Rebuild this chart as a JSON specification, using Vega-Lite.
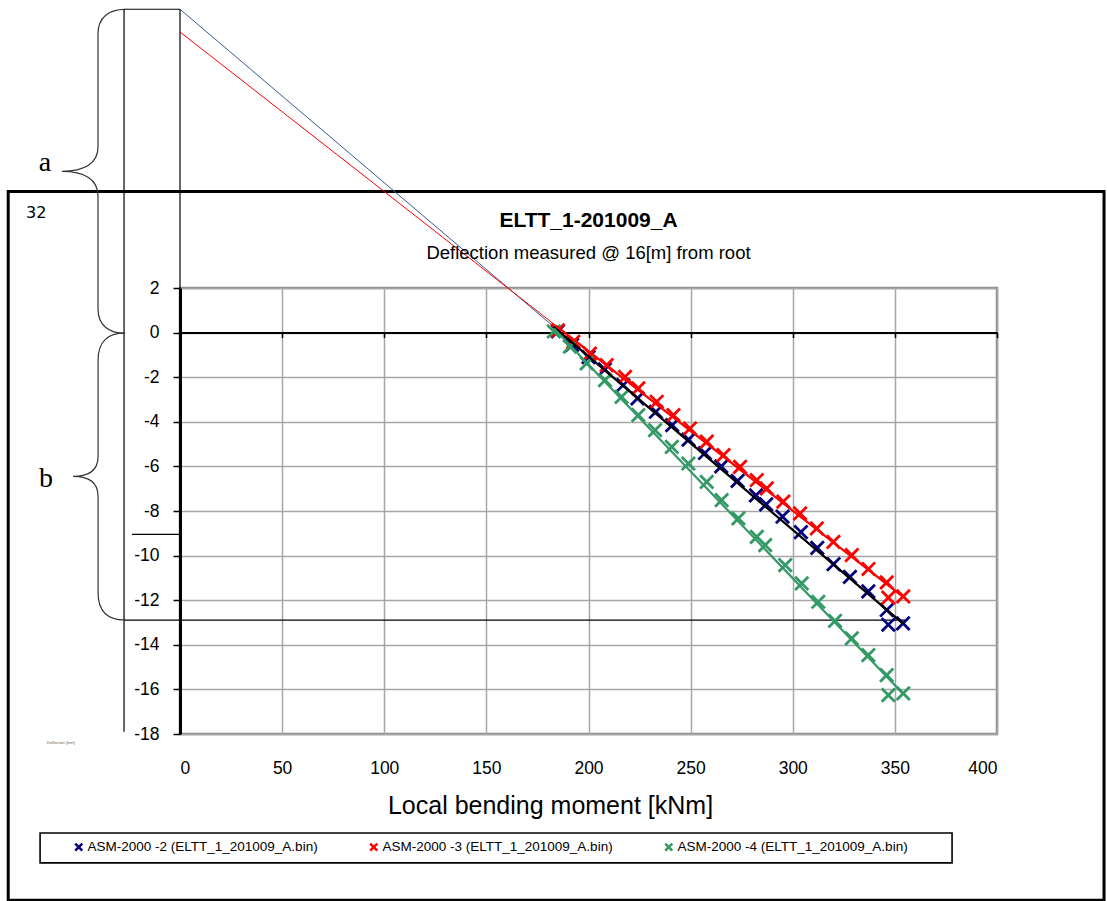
{
  "$schema": "https://vega.github.io/schema/vega-lite/v6.json",
  "width": 817,
  "height": 446,
  "autosize": {"type": "none"},
  "padding": {"left": 180, "top": 288, "right": 110, "bottom": 167},
  "background": "white",
  "config": {"view": {"stroke": "#8c8c8c", "strokeWidth": 2.5}, "font": "Liberation Sans"},
  "title": {
    "text": "ELTT_1-201009_A",
    "subtitle": "Deflection measured @ 16[m] from root",
    "anchor": "middle",
    "frame": "group",
    "font": "Liberation Sans",
    "fontSize": 21,
    "fontWeight": "bold",
    "color": "black",
    "subtitleFont": "Liberation Sans",
    "subtitleFontSize": 18.5,
    "subtitleColor": "black",
    "subtitlePadding": 13,
    "offset": -256
  },
  "datasets": {
    "pts": [
      {"series": "ASM-2000 -2 (ELTT_1_201009_A.bin)", "x": 185, "y": 0.05},
      {"series": "ASM-2000 -2 (ELTT_1_201009_A.bin)", "x": 192, "y": -0.55},
      {"series": "ASM-2000 -2 (ELTT_1_201009_A.bin)", "x": 200, "y": -1.1},
      {"series": "ASM-2000 -2 (ELTT_1_201009_A.bin)", "x": 208, "y": -1.65},
      {"series": "ASM-2000 -2 (ELTT_1_201009_A.bin)", "x": 217, "y": -2.35},
      {"series": "ASM-2000 -2 (ELTT_1_201009_A.bin)", "x": 224, "y": -2.95},
      {"series": "ASM-2000 -2 (ELTT_1_201009_A.bin)", "x": 233, "y": -3.55},
      {"series": "ASM-2000 -2 (ELTT_1_201009_A.bin)", "x": 241, "y": -4.15},
      {"series": "ASM-2000 -2 (ELTT_1_201009_A.bin)", "x": 249, "y": -4.8},
      {"series": "ASM-2000 -2 (ELTT_1_201009_A.bin)", "x": 257, "y": -5.4},
      {"series": "ASM-2000 -2 (ELTT_1_201009_A.bin)", "x": 265, "y": -6.0},
      {"series": "ASM-2000 -2 (ELTT_1_201009_A.bin)", "x": 273, "y": -6.65},
      {"series": "ASM-2000 -2 (ELTT_1_201009_A.bin)", "x": 282, "y": -7.3},
      {"series": "ASM-2000 -2 (ELTT_1_201009_A.bin)", "x": 287, "y": -7.7},
      {"series": "ASM-2000 -2 (ELTT_1_201009_A.bin)", "x": 295, "y": -8.25},
      {"series": "ASM-2000 -2 (ELTT_1_201009_A.bin)", "x": 304, "y": -8.95},
      {"series": "ASM-2000 -2 (ELTT_1_201009_A.bin)", "x": 312, "y": -9.65},
      {"series": "ASM-2000 -2 (ELTT_1_201009_A.bin)", "x": 320, "y": -10.38},
      {"series": "ASM-2000 -2 (ELTT_1_201009_A.bin)", "x": 328, "y": -10.95},
      {"series": "ASM-2000 -2 (ELTT_1_201009_A.bin)", "x": 337, "y": -11.6},
      {"series": "ASM-2000 -2 (ELTT_1_201009_A.bin)", "x": 346, "y": -12.44},
      {"series": "ASM-2000 -2 (ELTT_1_201009_A.bin)", "x": 346.8, "y": -13.1},
      {"series": "ASM-2000 -2 (ELTT_1_201009_A.bin)", "x": 354, "y": -13.04},
      {"series": "ASM-2000 -3 (ELTT_1_201009_A.bin)", "x": 185, "y": 0.1},
      {"series": "ASM-2000 -3 (ELTT_1_201009_A.bin)", "x": 192.6, "y": -0.41},
      {"series": "ASM-2000 -3 (ELTT_1_201009_A.bin)", "x": 200.7, "y": -0.94},
      {"series": "ASM-2000 -3 (ELTT_1_201009_A.bin)", "x": 208.9, "y": -1.46},
      {"series": "ASM-2000 -3 (ELTT_1_201009_A.bin)", "x": 217.9, "y": -1.98},
      {"series": "ASM-2000 -3 (ELTT_1_201009_A.bin)", "x": 224.4, "y": -2.5},
      {"series": "ASM-2000 -3 (ELTT_1_201009_A.bin)", "x": 233.4, "y": -3.1},
      {"series": "ASM-2000 -3 (ELTT_1_201009_A.bin)", "x": 241.6, "y": -3.7},
      {"series": "ASM-2000 -3 (ELTT_1_201009_A.bin)", "x": 249.7, "y": -4.3},
      {"series": "ASM-2000 -3 (ELTT_1_201009_A.bin)", "x": 257.9, "y": -4.89},
      {"series": "ASM-2000 -3 (ELTT_1_201009_A.bin)", "x": 266.1, "y": -5.49},
      {"series": "ASM-2000 -3 (ELTT_1_201009_A.bin)", "x": 274.2, "y": -6.02},
      {"series": "ASM-2000 -3 (ELTT_1_201009_A.bin)", "x": 282.4, "y": -6.61},
      {"series": "ASM-2000 -3 (ELTT_1_201009_A.bin)", "x": 287.3, "y": -6.99},
      {"series": "ASM-2000 -3 (ELTT_1_201009_A.bin)", "x": 295.4, "y": -7.58},
      {"series": "ASM-2000 -3 (ELTT_1_201009_A.bin)", "x": 303.6, "y": -8.11},
      {"series": "ASM-2000 -3 (ELTT_1_201009_A.bin)", "x": 311.8, "y": -8.78},
      {"series": "ASM-2000 -3 (ELTT_1_201009_A.bin)", "x": 319.9, "y": -9.38},
      {"series": "ASM-2000 -3 (ELTT_1_201009_A.bin)", "x": 328.9, "y": -9.98},
      {"series": "ASM-2000 -3 (ELTT_1_201009_A.bin)", "x": 337.1, "y": -10.6},
      {"series": "ASM-2000 -3 (ELTT_1_201009_A.bin)", "x": 346.0, "y": -11.2},
      {"series": "ASM-2000 -3 (ELTT_1_201009_A.bin)", "x": 346.8, "y": -11.88},
      {"series": "ASM-2000 -3 (ELTT_1_201009_A.bin)", "x": 354.1, "y": -11.83},
      {"series": "ASM-2000 -4 (ELTT_1_201009_A.bin)", "x": 183, "y": 0.05},
      {"series": "ASM-2000 -4 (ELTT_1_201009_A.bin)", "x": 190.9, "y": -0.63},
      {"series": "ASM-2000 -4 (ELTT_1_201009_A.bin)", "x": 199.1, "y": -1.38},
      {"series": "ASM-2000 -4 (ELTT_1_201009_A.bin)", "x": 208.1, "y": -2.13},
      {"series": "ASM-2000 -4 (ELTT_1_201009_A.bin)", "x": 216.2, "y": -2.88},
      {"series": "ASM-2000 -4 (ELTT_1_201009_A.bin)", "x": 224.4, "y": -3.7},
      {"series": "ASM-2000 -4 (ELTT_1_201009_A.bin)", "x": 232.6, "y": -4.37},
      {"series": "ASM-2000 -4 (ELTT_1_201009_A.bin)", "x": 240.8, "y": -5.12},
      {"series": "ASM-2000 -4 (ELTT_1_201009_A.bin)", "x": 248.9, "y": -5.87},
      {"series": "ASM-2000 -4 (ELTT_1_201009_A.bin)", "x": 257.9, "y": -6.69},
      {"series": "ASM-2000 -4 (ELTT_1_201009_A.bin)", "x": 265.2, "y": -7.51},
      {"series": "ASM-2000 -4 (ELTT_1_201009_A.bin)", "x": 273.4, "y": -8.33},
      {"series": "ASM-2000 -4 (ELTT_1_201009_A.bin)", "x": 282.4, "y": -9.16},
      {"series": "ASM-2000 -4 (ELTT_1_201009_A.bin)", "x": 286.5, "y": -9.53},
      {"series": "ASM-2000 -4 (ELTT_1_201009_A.bin)", "x": 296.3, "y": -10.43},
      {"series": "ASM-2000 -4 (ELTT_1_201009_A.bin)", "x": 304.4, "y": -11.25},
      {"series": "ASM-2000 -4 (ELTT_1_201009_A.bin)", "x": 312.5, "y": -12.07},
      {"series": "ASM-2000 -4 (ELTT_1_201009_A.bin)", "x": 320.7, "y": -12.93},
      {"series": "ASM-2000 -4 (ELTT_1_201009_A.bin)", "x": 328.9, "y": -13.71},
      {"series": "ASM-2000 -4 (ELTT_1_201009_A.bin)", "x": 337, "y": -14.46},
      {"series": "ASM-2000 -4 (ELTT_1_201009_A.bin)", "x": 346, "y": -15.36},
      {"series": "ASM-2000 -4 (ELTT_1_201009_A.bin)", "x": 346.8, "y": -16.26},
      {"series": "ASM-2000 -4 (ELTT_1_201009_A.bin)", "x": 354.1, "y": -16.18}
    ]
  },
  "layer": [
    {
      "data": {"values": [{"x": -84.1, "x2": 452.4, "y": 6.33, "y2": -25.45}]},
      "mark": {"type": "rect", "fillOpacity": 0, "stroke": "black", "strokeWidth": 3},
      "encoding": {
        "x": {"field": "x", "type": "quantitative", "axis": null},
        "x2": {"field": "x2"},
        "y": {"field": "y", "type": "quantitative", "axis": null},
        "y2": {"field": "y2"}
      }
    },
    {
      "data": {"values": [{"x": -68.5, "x2": 378.0, "y": -22.44, "y2": -23.78}]},
      "mark": {"type": "rect", "fillOpacity": 0, "stroke": "black", "strokeWidth": 1.6},
      "encoding": {
        "x": {"field": "x", "type": "quantitative", "axis": null},
        "x2": {"field": "x2"},
        "y": {"field": "y", "type": "quantitative", "axis": null},
        "y2": {"field": "y2"}
      }
    },
    {
      "data": {"values": [
        {"x": -27.4, "x2": -27.4, "y": 14.5, "y2": -17.9},
        {"x": 0, "x2": 0, "y": 14.5, "y2": 2},
        {"x": -27.4, "x2": 0, "y": 14.5, "y2": 14.5},
        {"x": -23.5, "x2": 0, "y": -9.05, "y2": -9.05},
        {"x": -27.4, "x2": 355, "y": -12.89, "y2": -12.89}
      ]},
      "mark": {"type": "rule", "color": "black", "strokeWidth": 1.2},
      "encoding": {
        "x": {"field": "x", "type": "quantitative", "axis": null},
        "x2": {"field": "x2"},
        "y": {"field": "y", "type": "quantitative", "axis": null},
        "y2": {"field": "y2"}
      }
    },
    {
      "data": {"values": [{"x": -26.9, "y": 7.23}]},
      "mark": {"type": "point", "shape": "M0,-1C-0.1,-1 -0.167,-0.95 -0.167,-0.85L-0.167,-0.15C-0.167,-0.05 -0.25,0 -0.39,0C-0.25,0 -0.167,0.05 -0.167,0.15L-0.167,0.85C-0.167,0.95 -0.1,1 0,1", "size": 104976, "filled": false, "stroke": "#333333", "strokeWidth": 1.2, "opacity": 1},
      "encoding": {
        "x": {"field": "x", "type": "quantitative", "axis": null},
        "y": {"field": "y", "type": "quantitative", "axis": null}
      }
    },
    {
      "data": {"values": [{"x": -26.9, "y": -6.45}]},
      "mark": {"type": "point", "shape": "M0,-1C-0.12,-1 -0.188,-0.94 -0.188,-0.81L-0.188,-0.14C-0.188,-0.04 -0.25,0 -0.362,0C-0.25,0 -0.188,0.04 -0.188,0.14L-0.188,0.81C-0.188,0.94 -0.12,1 0,1", "size": 82369, "filled": false, "stroke": "#333333", "strokeWidth": 1.2, "opacity": 1},
      "encoding": {
        "x": {"field": "x", "type": "quantitative", "axis": null},
        "y": {"field": "y", "type": "quantitative", "axis": null}
      }
    },
    {
      "data": {"values": [{"t": "a", "x": -66.1, "y": 7.24}, {"t": "b", "x": -65.6, "y": -6.93}]},
      "mark": {"type": "text", "font": "Liberation Serif", "fontSize": 28, "align": "center", "baseline": "alphabetic", "color": "black"},
      "encoding": {
        "x": {"field": "x", "type": "quantitative", "axis": null},
        "y": {"field": "y", "type": "quantitative", "axis": null},
        "text": {"field": "t"}
      }
    },
    {
      "data": {"values": [{"t": "32", "x": -70.4, "y": 5.35}]},
      "mark": {"type": "text", "font": "DejaVu Sans", "fontSize": 16, "align": "center", "baseline": "middle", "color": "black"},
      "encoding": {
        "x": {"field": "x", "type": "quantitative", "axis": null},
        "y": {"field": "y", "type": "quantitative", "axis": null},
        "text": {"field": "t"}
      }
    },
    {
      "data": {"values": [{"t": "Deflection [mm]", "x": -58.3, "y": -18.4}]},
      "mark": {"type": "text", "font": "Liberation Sans", "fontSize": 4, "align": "center", "baseline": "middle", "color": "#666666"},
      "encoding": {
        "x": {"field": "x", "type": "quantitative", "axis": null},
        "y": {"field": "y", "type": "quantitative", "axis": null},
        "text": {"field": "t"}
      }
    },
    {
      "data": {"values": [{"x": 0, "y": 14.5}, {"x": 186, "y": 0.03}]},
      "mark": {"type": "line", "color": "#3a5894", "strokeWidth": 1},
      "encoding": {
        "x": {"field": "x", "type": "quantitative", "axis": null},
        "y": {"field": "y", "type": "quantitative", "axis": null}
      }
    },
    {
      "data": {"values": [{"x": 0, "y": 13.48}, {"x": 187, "y": 0.1}]},
      "mark": {"type": "line", "color": "#ff0000", "strokeWidth": 1},
      "encoding": {
        "x": {"field": "x", "type": "quantitative", "axis": null},
        "y": {"field": "y", "type": "quantitative", "axis": null}
      }
    },
    {
      "data": {"name": "pts"},
      "mark": {"type": "point", "shape": "M-1,-1L1,1M1,-1L-1,1", "size": 175, "filled": false, "strokeWidth": 2.8, "opacity": 1},
      "encoding": {
        "x": {
          "field": "x", "type": "quantitative",
          "scale": {"domain": [0, 400], "nice": false, "zero": false},
          "axis": {
            "orient": "bottom",
            "values": [0, 50, 100, 150, 200, 250, 300, 350, 400],
            "grid": true, "gridColor": "#a6a6a6", "gridWidth": 1.5,
            "domain": false, "ticks": false, "tickSize": 0,
            "labelFont": "Liberation Sans", "labelFontSize": 17.5, "labelColor": "black", "labelPadding": 25,
            "title": "Local bending moment [kNm]",
            "titleFont": "Liberation Sans", "titleFontSize": 25, "titleFontWeight": "normal", "titleColor": "black", "titlePadding": 17,
            "titleX": 370
          }
        },
        "y": {
          "field": "y", "type": "quantitative",
          "scale": {"domain": [-18, 2], "nice": false, "zero": false},
          "axis": {
            "orient": "left",
            "values": [-18, -16, -14, -12, -10, -8, -6, -4, -2, 0, 2],
            "grid": true, "gridColor": "#a6a6a6", "gridWidth": 1.5,
            "domain": true, "domainColor": "black", "domainWidth": 3,
            "ticks": true, "tickColor": "black", "tickSize": 7, "tickWidth": 1.5,
            "labelFont": "Liberation Sans", "labelFontSize": 17.5, "labelColor": "black", "labelPadding": 14,
            "labelExpr": "'' + datum.value",
            "title": null
          }
        },
        "color": {
          "field": "series", "type": "nominal",
          "scale": {
            "domain": ["ASM-2000 -2 (ELTT_1_201009_A.bin)", "ASM-2000 -3 (ELTT_1_201009_A.bin)", "ASM-2000 -4 (ELTT_1_201009_A.bin)"],
            "range": ["#000080", "#ff0000", "#339966"]
          },
          "legend": {
            "title": null,
            "orient": "none",
            "legendX": -108,
            "legendY": 552,
            "direction": "horizontal",
            "symbolType": "M-1,-1L1,1M1,-1L-1,1",
            "symbolSize": 50,
            "symbolStrokeWidth": 2.5,
            "labelFont": "Liberation Sans",
            "labelFontSize": 13.5,
            "labelColor": "black",
            "labelLimit": 400,
            "labelOffset": 2,
            "columnPadding": 47,
            "padding": 0
          }
        }
      }
    },
    {
      "data": {"values": [
        {"s": "b", "x": 183, "y": 0.26}, {"s": "b", "x": 354, "y": -13.05},
        {"s": "r", "x": 184, "y": 0.31}, {"s": "r", "x": 354, "y": -11.85},
        {"s": "g", "x": 183, "y": 0.2}, {"s": "g", "x": 354, "y": -16.2}
      ]},
      "mark": {"type": "line", "strokeWidth": 2.2},
      "encoding": {
        "x": {
          "field": "x", "type": "quantitative",
          "axis": {
            "orient": "bottom", "offset": -401.4,
            "values": [0, 50, 100, 150, 200, 250, 300, 350, 400],
            "labels": false, "grid": false, "title": null,
            "domain": true, "domainColor": "black", "domainWidth": 2,
            "ticks": true, "tickColor": "black", "tickSize": 5, "tickWidth": 1.5
          }
        },
        "y": {"field": "y", "type": "quantitative", "axis": null},
        "stroke": {
          "field": "s", "type": "nominal",
          "scale": {"domain": ["b", "r", "g"], "range": ["#000000", "#ff0000", "#339966"]},
          "legend": null
        }
      }
    }
  ],
  "resolve": {"axis": {"x": "independent", "y": "independent"}}
}
